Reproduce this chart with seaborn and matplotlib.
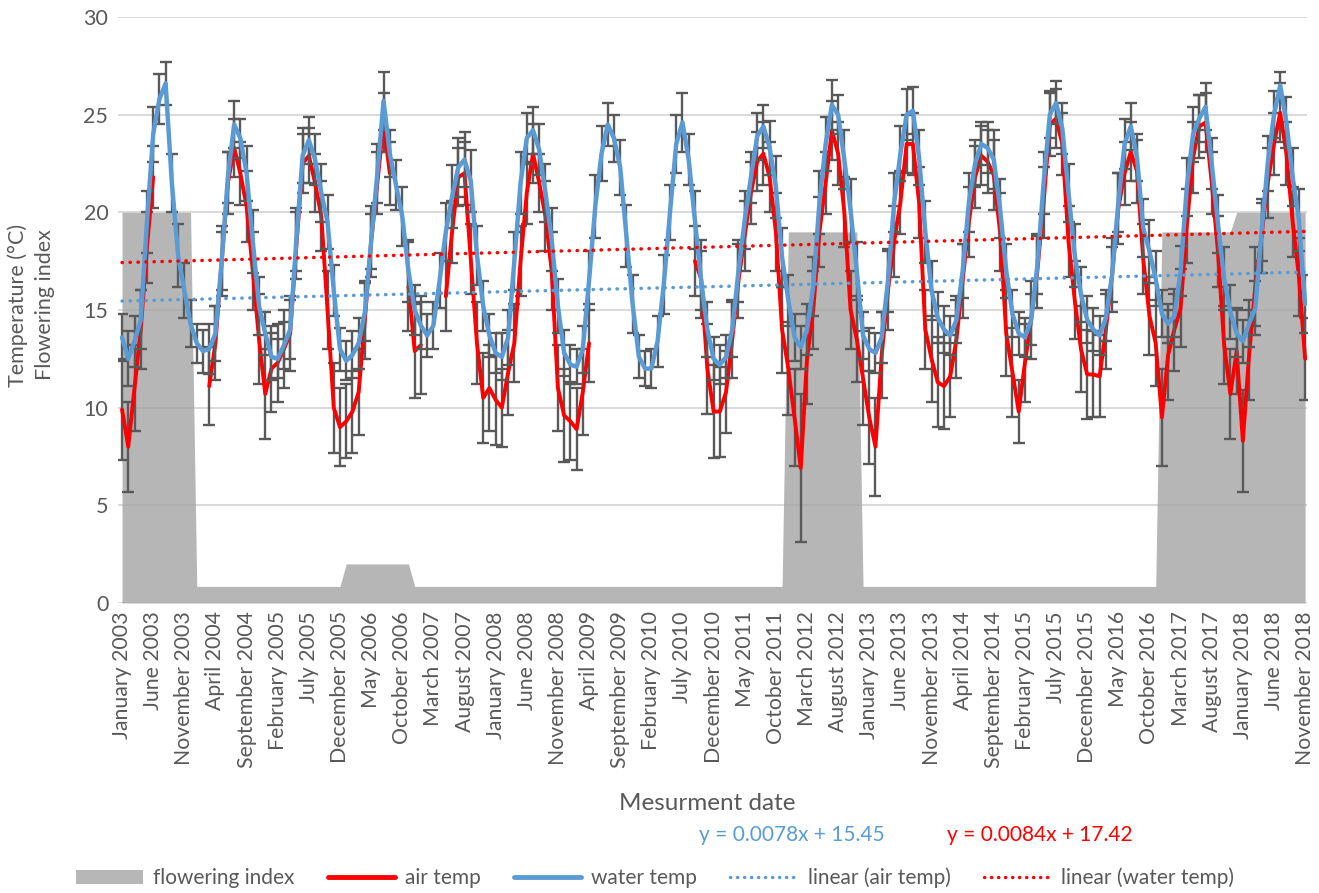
import matplotlib
matplotlib.use('Agg')
import matplotlib.pyplot as plt
import numpy as np
import pandas as pd
import seaborn as sns
from matplotlib.patches import Patch
from matplotlib.lines import Line2D

nan = np.nan

# monthly values, January 2003 .. November 2018 (one row per year)
water_temp = [
    13.6, 12.5, 13.4, 14.5, 19.5, 24.0, 25.8, 26.6, 21.5, 17.8, 16.0, 14.3,  # 2003
    13.3, 12.9, 13.0, 13.8, 17.5, 21.8, 24.5, 23.8, 22.0, 18.5, 15.2, 13.8,  # 2004
    12.6, 12.5, 13.2, 14.0, 18.6, 22.9, 23.7, 22.7, 21.0, 19.5, 16.0, 13.0,  # 2005
    12.4, 12.7, 13.3, 14.9, 18.5, 22.0, 25.7, 23.0, 21.4, 19.8, 17.0, 15.0,  # 2006
    14.2, 13.7, 14.2, 16.5, 19.0, 20.8, 22.3, 22.7, 21.6, 17.8, 15.2, 13.7,  # 2007
    12.8, 12.6, 13.6, 17.5, 21.5, 23.8, 24.2, 23.2, 21.0, 18.6, 15.2, 12.8,  # 2008
    12.2, 12.1, 13.0, 16.5, 20.3, 23.0, 24.5, 23.8, 22.3, 18.8, 15.3, 12.6,  # 2009
    12.0, 12.0, 13.4, 16.3, 20.0, 23.5, 24.6, 22.7, 19.6, 16.5, 14.0, 12.5,  # 2010
    12.2, 12.6, 14.0, 17.0, 19.6, 21.8, 23.9, 24.4, 23.3, 21.3, 17.7, 15.5,  # 2011
    13.6, 13.1, 14.0, 16.2, 20.5, 23.5, 25.5, 25.0, 22.7, 20.1, 17.0, 13.7,  # 2012
    13.0, 12.8, 13.6, 16.5, 20.5, 23.0, 25.0, 25.2, 22.8, 19.0, 16.0, 14.6,  # 2013
    14.0, 13.7, 14.5, 17.0, 20.5, 22.5, 23.5, 23.3, 22.7, 20.2, 17.0, 14.8,  # 2014
    13.8, 13.6, 14.5, 17.3, 21.5, 25.0, 25.6, 24.3, 21.0, 17.8, 15.8, 14.5,  # 2015
    14.0, 13.7, 14.6, 16.8, 20.5, 23.5, 24.4, 22.8, 19.2, 18.0, 16.6, 14.8,  # 2016
    14.3, 14.7, 17.0, 21.3, 24.0, 24.8, 25.4, 22.5, 19.4, 16.6, 14.9, 13.8,  # 2017
    13.4, 14.3, 15.1, 19.0, 22.5, 25.0, 26.5, 24.6, 21.8, 19.6, 15.3,        # 2018
]

air_temp = [
    9.9, 8.0, 11.0, 14.0, 18.2, 21.8, nan, nan, nan, nan, nan, nan,           # 2003
    nan, nan, 11.1, 13.3, 17.5, 21.5, 23.3, 22.0, 20.3, 17.0, 13.5, 10.7,    # 2004
    12.0, 12.3, 13.0, 13.8, 18.3, 22.5, 22.9, 21.5, 19.8, 15.0, 10.0, 9.0,   # 2005
    9.3, 9.8, 10.8, 14.5, 18.5, 21.5, 24.6, 22.0, nan, nan, 16.2, 12.9,      # 2006
    13.2, nan, nan, nan, 15.7, 19.0, 21.8, 22.0, 17.6, 13.3, 10.5, 11.0,     # 2007
    10.4, 10.0, 11.8, 13.3, 17.5, 21.0, 23.0, 21.5, 19.8, 17.0, 11.0, 9.6,   # 2008
    9.3, 8.9, 10.8, 13.3, nan, nan, nan, nan, nan, nan, nan, nan,            # 2009
    nan, nan, nan, nan, nan, nan, nan, nan, 17.5, 16.6, 12.0, 9.8,           # 2010
    9.8, 10.8, 13.5, 16.5, 18.8, 21.0, 22.6, 23.0, 21.8, 19.0, 14.0, 12.0,   # 2011
    9.5, 6.9, 12.5, 15.0, 19.0, 21.5, 24.2, 23.0, 20.0, 15.0, 13.5, 11.5,    # 2012
    9.5, 8.0, 12.7, 16.0, 18.5, 20.5, 23.5, 23.5, 20.5, 14.0, 12.5, 11.3,    # 2013
    11.1, 11.6, 13.5, 16.5, 19.5, 21.8, 22.9, 22.6, 21.9, 19.0, 13.8, 11.8,  # 2014
    9.8, 12.3, 14.5, 17.0, 20.5, 24.5, 24.8, 23.5, 18.5, 15.5, 13.0, 11.7,   # 2015
    11.7, 11.6, 14.0, 16.8, 20.2, 22.0, 23.1, 22.1, 17.6, 14.7, 13.3, 9.5,   # 2016
    12.7, 14.0, 15.1, 19.3, 22.8, 24.4, 24.6, 21.5, 18.0, 13.2, 10.7, 12.9,  # 2017
    8.3, 12.7, 16.2, 18.8, 21.5, 23.5, 25.1, 23.0, 19.5, 16.7, 12.5,         # 2018
]

water_err = [
    1.2, 1.4, 1.3, 1.5, 1.6, 1.4, 1.3, 1.1, 1.5, 1.6, 1.4, 1.2,
    1.0, 1.1, 1.3, 1.4, 1.5, 1.3, 1.2, 1.0, 1.4, 1.6, 1.5, 1.1,
    1.2, 1.0, 1.2, 1.5, 1.6, 1.4, 1.2, 1.3, 1.5, 1.4, 1.3, 1.1,
    1.0, 1.2, 1.3, 1.5, 1.4, 1.5, 1.5, 1.2, 1.3, 1.5, 1.6, 1.3,
    1.2, 1.1, 1.2, 1.4, 1.5, 1.6, 1.5, 1.4, 1.6, 1.5, 1.3, 1.1,
    1.0, 1.2, 1.4, 1.5, 1.6, 1.3, 1.2, 1.3, 1.5, 1.6, 1.4, 1.2,
    1.0, 0.9, 1.2, 1.5, 1.6, 1.4, 1.1, 1.2, 1.4, 1.6, 1.5, 1.1,
    0.9, 1.0, 1.3, 1.5, 1.4, 1.5, 1.5, 1.3, 1.5, 1.5, 1.4, 1.1,
    1.0, 1.1, 1.4, 1.6, 1.5, 1.3, 1.2, 1.1, 1.4, 1.6, 1.5, 1.3,
    1.2, 1.1, 1.3, 1.5, 1.6, 1.4, 1.3, 1.0, 1.5, 1.6, 1.5, 1.2,
    1.1, 1.0, 1.3, 1.6, 1.5, 1.4, 1.3, 1.2, 1.4, 1.6, 1.5, 1.3,
    1.2, 1.0, 1.2, 1.4, 1.5, 1.2, 1.1, 1.3, 1.5, 1.5, 1.4, 1.2,
    1.1, 1.0, 1.3, 1.5, 1.6, 1.2, 1.1, 1.3, 1.5, 1.6, 1.4, 1.2,
    1.1, 1.0, 1.2, 1.4, 1.5, 1.3, 1.2, 1.2, 1.5, 1.6, 1.4, 1.2,
    1.0, 1.1, 1.3, 1.5, 1.4, 1.2, 1.2, 1.3, 1.5, 1.6, 1.4, 1.2,
    1.1, 1.2, 1.4, 1.5, 1.4, 1.2, 0.7, 1.3, 1.5, 1.6, 1.5,
]

air_err = [
    2.6, 2.3, 2.2, 2.0, 1.8, 1.6, 1.6, 1.6, 1.8, 2.0, 2.2, 2.4,
    2.5, 2.4, 2.0, 1.9, 1.8, 1.6, 1.5, 1.6, 1.8, 2.0, 2.3, 2.3,
    2.2, 2.0, 2.0, 1.9, 1.7, 1.5, 1.4, 1.5, 1.8, 2.0, 2.3, 2.0,
    1.9, 2.1, 2.2, 2.0, 1.8, 1.6, 1.5, 1.6, 1.8, 2.0, 2.3, 2.4,
    2.5, 2.3, 2.0, 1.9, 1.8, 1.6, 1.5, 1.6, 1.8, 2.1, 2.3, 2.2,
    2.3, 2.0, 2.2, 2.0, 1.8, 1.6, 1.5, 1.5, 1.8, 2.0, 2.2, 2.4,
    2.0, 2.1, 2.2, 2.0, 1.8, 1.6, 1.5, 1.6, 1.8, 2.0, 2.2, 2.4,
    2.4, 2.3, 2.0, 1.9, 1.8, 1.6, 1.5, 1.6, 1.8, 2.0, 2.3, 2.4,
    2.3, 2.1, 2.0, 1.9, 1.8, 1.6, 1.5, 1.6, 1.8, 2.0, 2.2, 2.4,
    2.5, 3.8, 2.3, 2.0, 1.8, 1.6, 1.5, 1.6, 1.8, 2.0, 2.2, 2.4,
    2.4, 2.5, 2.2, 2.0, 1.8, 1.6, 1.5, 1.6, 1.8, 2.0, 2.2, 2.3,
    2.2, 2.1, 2.0, 1.9, 1.8, 1.6, 1.5, 1.6, 1.8, 2.0, 2.2, 2.3,
    1.6, 2.0, 2.0, 1.9, 1.8, 1.6, 1.5, 1.6, 1.8, 2.0, 2.2, 2.3,
    2.2, 2.1, 2.0, 1.9, 1.8, 1.6, 1.5, 1.6, 1.8, 2.0, 2.2, 2.5,
    2.3, 2.1, 2.0, 1.9, 1.8, 1.6, 1.5, 1.6, 1.8, 2.0, 2.3, 2.2,
    2.6, 2.3, 2.0, 1.9, 1.8, 1.6, 1.5, 1.6, 1.8, 2.0, 2.1,
]

# flowering index as (value, number of months)
flower_runs = [(20, 12), (0.85, 24), (2, 11), (0.85, 60), (19, 12), (0.85, 48), (19, 12), (20, 12)]

trend_names = ['linear (air temp)', 'linear (water temp)']
trend_slope = [0.0078, 0.0084]
trend_intercept = [15.45, 17.42]

RED = '#ff0000'
BLUE = '#5b9bd5'
GREY_TXT = '#595959'

months = pd.date_range('2003-01-01', '2018-11-01', freq='MS')
flower = [v for v, n in flower_runs for _ in range(n)]

df = pd.DataFrame({'idx': np.arange(len(months)), 'air': air_temp, 'water': water_temp,
                   'air_err': air_err, 'water_err': water_err, 'flower': flower})
df['seg'] = df['air'].isna().cumsum()
air_df = df.dropna(subset=['air'])

sns.set_theme(style='white')
plt.rcParams['font.family'] = ['Lato', 'DejaVu Sans']

fig = plt.figure(figsize=(13.19, 8.93), dpi=100)
ax = fig.add_axes([118/1319, 1-603/893, 1189/1319, 586/893])

# flowering index area
ax.fill_between(df['idx'], 0, df['flower'], color='#a6a6a6', alpha=0.82, lw=0, zorder=1)

# air temp
ax.errorbar(air_df['idx'], air_df['air'], yerr=air_df['air_err'], fmt='none',
            ecolor=GREY_TXT, elinewidth=1.7, capsize=4.5, capthick=1.7, zorder=2)
sns.lineplot(data=air_df, x='idx', y='air', units='seg', estimator=None, color=RED,
             lw=2.8, ax=ax, legend=False, zorder=3, solid_joinstyle='round',
             solid_capstyle='round')

# water temp
ax.errorbar(df['idx'], df['water'], yerr=df['water_err'], fmt='none',
            ecolor=GREY_TXT, elinewidth=1.7, capsize=4.5, capthick=1.7, zorder=4)
sns.lineplot(data=df, x='idx', y='water', color=BLUE, lw=3.2, ax=ax, legend=False,
             zorder=5, solid_joinstyle='round')

# linear trends (Excel x runs 1..n)
trend_colors = [BLUE, RED]
for s, b, c in zip(trend_slope, trend_intercept, trend_colors):
    tr = pd.DataFrame({'idx': df['idx'], 'y': s * (df['idx'] + 1) + b})
    sns.lineplot(data=tr, x='idx', y='y', color=c, lw=2.5, ax=ax, legend=False, zorder=6,
                 linestyle=(0, (0.1, 2.2)), dash_capstyle='round')

ax.set_xlim(-0.65, 190.3)
ax.set_ylim(0, 30)
ax.set_yticks(range(0, 31, 5))
ax.yaxis.grid(True, color='#d9d9d9', lw=1.4)
ax.xaxis.grid(False)
ax.set_axisbelow(True)
for sp in ax.spines.values():
    sp.set_visible(False)

tick_idx = list(range(0, len(months), 5))
ax.set_xticks(tick_idx)
ax.set_xticklabels([months[i].strftime('%B %Y') for i in tick_idx], rotation=90,
                   fontsize=15.3, color=GREY_TXT)
ax.tick_params(axis='y', labelsize=15.5, colors=GREY_TXT, length=0, pad=7)
ax.tick_params(axis='x', length=0, pad=6)
ax.set_xlabel('')
ax.set_ylabel('')

fig.text(31/1319, 1-305/893, 'Temperature (°C)\nFlowering index', rotation=90,
         ha='center', va='center', fontsize=15.5, color=GREY_TXT, linespacing=1.45)
fig.text(707/1319, 1-803/893, 'Mesurment date', ha='center', va='center',
         fontsize=17.5, color=GREY_TXT)

eq_x = [792, 1040]
for s, b, c, xx in zip(trend_slope, trend_intercept, trend_colors, eq_x):
    fig.text(xx/1319, 1-835/893, f'y = {s}x + {b}', ha='center', va='center',
             fontsize=15, color=c)

handles = [Patch(facecolor='#b7b7b7', edgecolor='none'),
           Line2D([], [], color=RED, lw=3.5),
           Line2D([], [], color=BLUE, lw=3.5),
           Line2D([], [], color=BLUE, lw=2.4, linestyle=(0, (0.1, 2.0)), dash_capstyle='round'),
           Line2D([], [], color=RED, lw=2.4, linestyle=(0, (0.1, 2.0)), dash_capstyle='round')]
labels = ['flowering index', 'air temp', 'water temp'] + trend_names
fig.legend(handles, labels, loc='center', bbox_to_anchor=(655/1319, 1-878/893), ncol=5,
           frameon=False, fontsize=15, handlelength=3.2, handletextpad=0.5,
           columnspacing=1.6, labelcolor=GREY_TXT)

fig.savefig('out.png', dpi=100)
